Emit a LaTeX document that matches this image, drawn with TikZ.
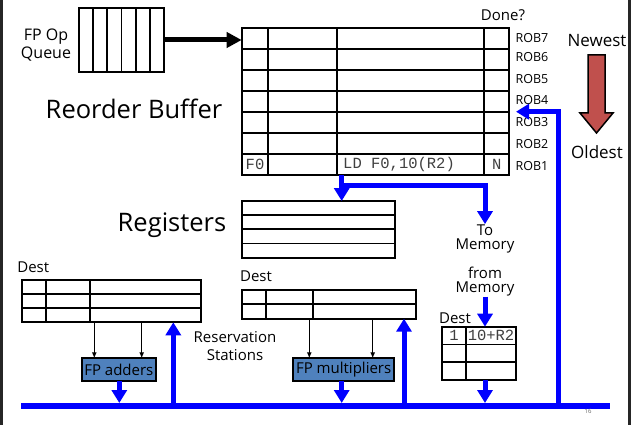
\documentclass[tikz,border=0pt]{standalone}
\usepackage{fontspec}
\setmainfont{Open Sans}
\setmonofont{Liberation Mono}
\usetikzlibrary{arrows.meta,calc}
\definecolor{fpblue}{RGB}{79,129,189}
\definecolor{arrred}{RGB}{192,80,77}
\begin{document}
\begin{tikzpicture}[x=1pt,y=-1pt,
  box/.style={draw,line width=1.8pt,inner sep=0pt,outer sep=0pt,anchor=north west},
  grid/.style={line width=1.8pt},
  bus/.style={blue,line width=5.5pt},
  barrow/.style={blue,line width=5pt,line join=miter,-{Triangle[width=15pt,length=13pt]}},
  thinarrow/.style={line width=1pt,-{Latex[length=6pt,width=5pt]}},
  lbl/.style={font=\fontsize{15}{14}\selectfont,align=center,inner sep=0pt},
  big/.style={font=\fontsize{25.5}{28}\selectfont,inner sep=0pt},
  roblbl/.style={font=\fontsize{12.5}{13}\selectfont,inner sep=0pt},
  mono/.style={font=\ttfamily\fontsize{15.5}{16}\selectfont,text=black!75,inner sep=0pt},
  fpbox/.style={draw,line width=1.8pt,fill=fpblue,inner sep=0pt,outer sep=0pt,anchor=north west,font=\fontsize{15}{16}\selectfont}
]
\useasboundingbox (0,0) rectangle (631,425);
% side borders
\draw[line width=2.5pt,black!85] (1.5,0) -- (1.5,425);
\draw[line width=2.5pt,black!85] (629.5,0) -- (629.5,425);

% FP op queue
\node[box,minimum width=85pt,minimum height=64pt] (queue) at (79,8) {};
\foreach \i in {1,...,5}
  \draw[grid] ($(queue.north west)+(\i*14.17,0)$) -- ($(queue.south west)+(\i*14.17,0)$);
\node[lbl,font=\fontsize{16}{18}\selectfont] (qlbl) at (46,45) {FP Op\\Queue};

% Reorder buffer
\node[box,minimum width=267.6pt,minimum height=146.7pt] (rob) at (241.7,28.3) {};
\foreach \i in {1,...,6}
  \draw[grid] ($(rob.north west)+(0,\i*20.957)$) -- ($(rob.north east)+(0,\i*20.957)$);
\foreach \xx in {268.3,336.7,484}
  \draw[grid] (rob.north west -| \xx,0) -- (rob.south west -| \xx,0);
\node[mono] (f0) at (255,164.7) {F0};
\node[mono,anchor=west] (ld) at (343,164.7) {LD F0,10(R2)};
\node[mono] (nn) at (496.7,164.7) {N};
\node[lbl] (done) at (503,15) {Done?};
\node[roblbl] (r7) at (532,37.7) {ROB7};
\node[roblbl] (r6) at (532,57.5) {ROB6};
\node[roblbl] (r5) at (532,79) {ROB5};
\node[roblbl] (r4) at (532,100) {ROB4};
\node[roblbl] (r3) at (532,122) {ROB3};
\node[roblbl] (r2) at (532,144.5) {ROB2};
\node[roblbl] (r1) at (532,166) {ROB1};
\node[big] (roblbl) at (134,109) {Reorder Buffer};

\draw[line width=5pt,-{Triangle[width=15pt,length=15pt]}] (queue.east) -- (queue.east -| rob.west);

% Newest / Oldest
\node[lbl,font=\fontsize{17}{18}\selectfont] (newest) at (597,40.7) {Newest};
\node[lbl,font=\fontsize{17}{18}\selectfont] (oldest) at (597,151.7) {Oldest};
\draw[line width=1.5pt,fill=arrred] (588,55) -- (605,55) -- (605,113) -- (613,113) -- (596.5,133) -- (580,113) -- (588,113) -- cycle;

% Registers
\node[box,minimum width=153.3pt,minimum height=56.7pt] (regs) at (241.7,201) {};
\foreach \i in {1,2,3}
  \draw[grid] ($(regs.north west)+(0,\i*14.175)$) -- ($(regs.north east)+(0,\i*14.175)$);
\node[big] (reglbl) at (172,225) {Registers};

% ROB -> registers and to memory
\coordinate (split) at (341.7,185);
\draw[barrow] (split |- rob.south) -- (split |- regs.north);
\node[lbl] (tomem) at (485,238.5) {To\\Memory};
\draw[barrow] (split) -- (split -| tomem.north) -- (tomem.north);

% from memory / load buffer
\node[lbl] (frommem) at (485,282) {from\\Memory};
\node[box,minimum width=74pt,minimum height=53.3pt] (lb) at (441.7,326.7) {};
\foreach \i in {1,2}
  \draw[grid] ($(lb.north west)+(0,\i*17.77)$) -- ($(lb.north east)+(0,\i*17.77)$);
\draw[grid] (lb.north west -| 466,0) -- (lb.south west -| 466,0);
\node[mono] (one) at (454,335.5) {1};
\node[mono] (addr) at (491,335.5) {10+R2};
\node[lbl] (lbdest) at (455,318.5) {Dest};
\draw[barrow] (frommem.south) -- (frommem.south |- lb.north);

% bus
\coordinate (busL) at (21,406);
\coordinate (busR) at (610,406);
\coordinate (bustop) at (0,403);
\draw[bus] (busL) -- (busR);
\node[font=\fontsize{6}{6}\selectfont,text=black!60,inner sep=0pt] (pg) at (588,411) {16};

\draw[barrow] (frommem.south |- lb.south) -- (frommem.south |- bustop);
\coordinate (robin) at (558,406);
\draw[barrow] (robin) -- (robin |- 0,111.7) -- (516,111.7);

% left reservation station
\node[box,minimum width=179pt,minimum height=42.3pt] (rs1) at (21.7,280) {};
\foreach \i in {1,2}
  \draw[grid] ($(rs1.north west)+(0,\i*14.1)$) -- ($(rs1.north east)+(0,\i*14.1)$);
\foreach \xx in {46,90}
  \draw[grid] (rs1.north west -| \xx,0) -- (rs1.south west -| \xx,0);
\node[lbl] (d1) at (33.3,267.7) {Dest};
\node[fpbox,minimum width=74.3pt,minimum height=22.4pt] (add) at (81.7,358.3) {FP adders};
\draw[thinarrow] (rs1.south -| 94.3,0) -- (add.north -| 94.3,0);
\draw[thinarrow] (rs1.south -| 141.7,0) -- (add.north -| 141.7,0);
\draw[barrow] (add.south -| 119.3,0) -- (bustop -| 119.3,0);
\coordinate (up1) at (173.3,406);
\draw[barrow] (up1) -- (up1 |- rs1.south);
\node[lbl,font=\fontsize{15}{18}\selectfont] (rslbl) at (235,346) {Reservation\\Stations};

% right reservation station
\node[box,minimum width=174.3pt,minimum height=28.7pt] (rs2) at (241.7,290) {};
\draw[grid] ($(rs2.north west)+(0,14.35)$) -- ($(rs2.north east)+(0,14.35)$);
\foreach \xx in {266,312.7}
  \draw[grid] (rs2.north west -| \xx,0) -- (rs2.south west -| \xx,0);
\node[lbl] (d2) at (256,276.7) {Dest};
\node[fpbox,minimum width=100.7pt,minimum height=22.4pt] (mul) at (293.3,358.3) {FP multipliers};
\draw[thinarrow] (rs2.south -| 309.3,0) -- (mul.north -| 309.3,0);
\draw[thinarrow] (rs2.south -| 372.7,0) -- (mul.north -| 372.7,0);
\draw[barrow] (mul.south -| 341.7,0) -- (bustop -| 341.7,0);
\coordinate (up2) at (404,406);
\draw[barrow] (up2) -- (up2 |- rs2.south);
\end{tikzpicture}
\end{document}
